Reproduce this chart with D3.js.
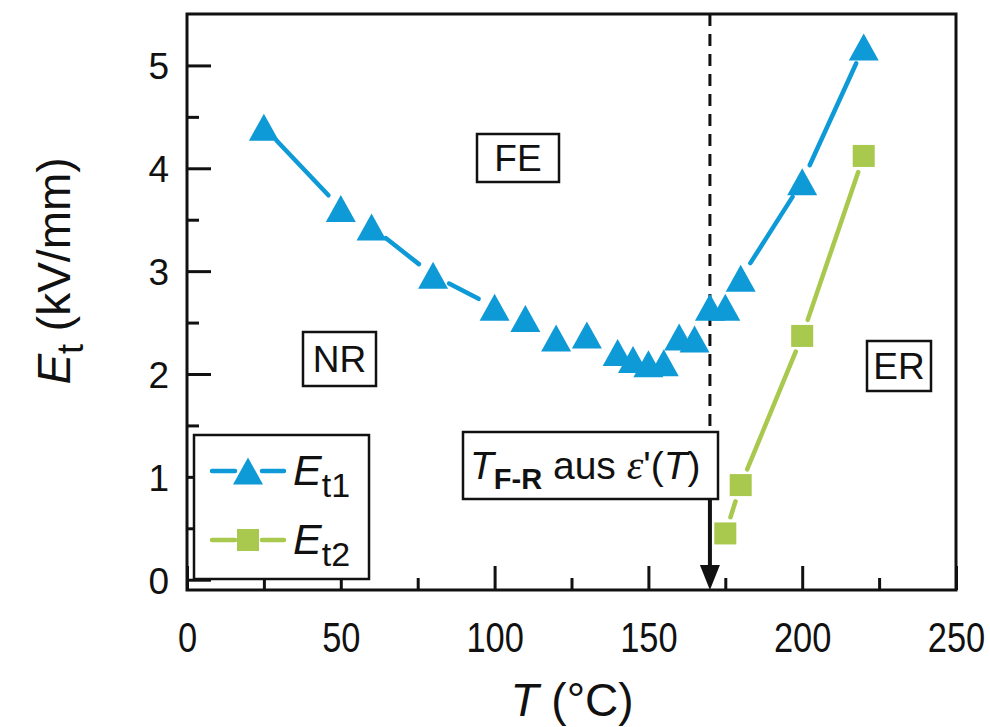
<!DOCTYPE html>
<html>
<head>
<meta charset="utf-8">
<script src="https://cdn.jsdelivr.net/npm/d3@7"></script>
<style>
  body { margin: 0; background: #fff; }
  text { font-family: "Liberation Sans", Arial, sans-serif; fill: #111; }
</style>
</head>
<body>
<svg id="chart" width="990" height="727"></svg>
<script>
// data
const temps1 = [25, 50, 60, 80, 100, 110, 120, 130, 140, 145, 150, 155, 160, 165, 170, 175, 180, 200, 220];
const et1 = [4.40, 3.61, 3.43, 2.96, 2.65, 2.54, 2.35, 2.38, 2.21, 2.14, 2.10, 2.11, 2.36, 2.34, 2.65, 2.65, 2.93, 3.87, 5.18];
const temps2 = [175, 180, 200, 220];
const et2 = [0.45, 0.92, 2.37, 4.12];
const xTicks = [0, 50, 100, 150, 200, 250];
const xMinor = [25, 75, 125, 175, 225];
const yTicks = [0, 1, 2, 3, 4, 5];
const yMinor = [0.5, 1.5, 2.5, 3.5, 4.5];
const tFR = 170;

const blue = "#0e9ad6";
const green = "#a8c84e";

const svg = d3.select("#chart");

const x = d3.scaleLinear().domain([0, 250]).range([187, 956]);
const y = d3.scaleLinear().domain([-0.1, 5.5]).range([590, 14]);

// axes, ticks pointing inward
const xAxis = svg.append("g").attr("transform", "translate(0," + y.range()[0] + ")")
  .call(d3.axisBottom(x).tickValues(xTicks).tickSize(-24).tickPadding(62).tickFormat(d3.format("d")));
svg.append("g").attr("transform", "translate(0," + y.range()[0] + ")")
  .call(d3.axisBottom(x).tickValues(xMinor).tickSize(-12).tickFormat(""));
const yAxis = svg.append("g").attr("transform", "translate(" + x.range()[0] + ",0)")
  .call(d3.axisLeft(y).tickValues(yTicks).tickSize(-24).tickPadding(18).tickFormat(d3.format("d")));
svg.append("g").attr("transform", "translate(" + x.range()[0] + ",0)")
  .call(d3.axisLeft(y).tickValues(yMinor).tickSize(-12).tickFormat(""));

svg.selectAll(".domain").remove();
svg.selectAll(".tick line").attr("stroke", "#111").attr("stroke-width", 3);
// the x tick numbers in the figure are a condensed face
xAxis.selectAll("text").attr("font-size", 42).attr("dy", "0").attr("transform", "scale(0.82,1)");
yAxis.selectAll("text").attr("font-size", 37).attr("dy", "0.36em");

// frame
svg.append("rect")
  .attr("x", x.range()[0]).attr("y", y.range()[1])
  .attr("width", x.range()[1] - x.range()[0]).attr("height", y.range()[0] - y.range()[1])
  .attr("fill", "none").attr("stroke", "#111").attr("stroke-width", 3);

// dashed T_F-R line and arrow
svg.append("line")
  .attr("x1", x(tFR)).attr("x2", x(tFR)).attr("y1", y.range()[1]).attr("y2", 432)
  .attr("stroke", "#111").attr("stroke-width", 3).attr("stroke-dasharray", "12,8");
svg.append("line")
  .attr("x1", x(tFR)).attr("x2", x(tFR)).attr("y1", 499).attr("y2", 568)
  .attr("stroke", "#111").attr("stroke-width", 4);
svg.append("path")
  .attr("d", `M${x(tFR) - 10},565 L${x(tFR) + 10},565 L${x(tFR)},${y.range()[0]} Z`)
  .attr("fill", "#111");

// line segments with gaps around markers
function gappedSegments(xs, ys, gap) {
  const segs = [];
  for (let i = 0; i < xs.length - 1; i++) {
    const x1 = x(xs[i]), y1 = y(ys[i]), x2 = x(xs[i + 1]), y2 = y(ys[i + 1]);
    const len = Math.hypot(x2 - x1, y2 - y1);
    if (len <= 2 * gap + 2) continue;
    const ux = (x2 - x1) / len, uy = (y2 - y1) / len;
    segs.push([x1 + ux * gap, y1 + uy * gap, x2 - ux * gap, y2 - uy * gap]);
  }
  return segs;
}

svg.append("g").selectAll("line").data(gappedSegments(temps1, et1, 18)).enter().append("line")
  .attr("x1", d => d[0]).attr("y1", d => d[1]).attr("x2", d => d[2]).attr("y2", d => d[3])
  .attr("stroke", blue).attr("stroke-width", 4.5).attr("stroke-linecap", "round");
svg.append("g").selectAll("line").data(gappedSegments(temps2, et2, 17)).enter().append("line")
  .attr("x1", d => d[0]).attr("y1", d => d[1]).attr("x2", d => d[2]).attr("y2", d => d[3])
  .attr("stroke", green).attr("stroke-width", 4.5).attr("stroke-linecap", "round");

const triPath = "M0,-13.5 L15,13.5 L-15,13.5 Z";
svg.append("g").selectAll("path").data(temps1.map((t, i) => [t, et1[i]])).enter().append("path")
  .attr("d", triPath)
  .attr("transform", d => "translate(" + x(d[0]) + "," + y(d[1]) + ")")
  .attr("fill", blue);
svg.append("g").selectAll("rect").data(temps2.map((t, i) => [t, et2[i]])).enter().append("rect")
  .attr("x", d => x(d[0]) - 11).attr("y", d => y(d[1]) - 11)
  .attr("width", 22).attr("height", 22)
  .attr("fill", green);

// region labels
function boxLabel(txt, x0, y0, w, h) {
  svg.append("rect").attr("x", x0).attr("y", y0).attr("width", w).attr("height", h)
    .attr("fill", "#fff").attr("stroke", "#111").attr("stroke-width", 2.5);
  svg.append("text").attr("x", x0 + w / 2).attr("y", y0 + h / 2 + 13)
    .attr("text-anchor", "middle").attr("font-size", 37).text(txt);
}
boxLabel("FE", 477, 134, 82, 48);
boxLabel("NR", 303, 332, 73, 54);
boxLabel("ER", 867, 341, 64, 50);

// T_F-R box
svg.append("rect").attr("x", 463).attr("y", 432).attr("width", 255).attr("height", 67)
  .attr("fill", "#fff").attr("stroke", "#111").attr("stroke-width", 2.5);
const tfr = svg.append("text").attr("x", 470).attr("y", 479).attr("font-size", 39);
tfr.append("tspan").attr("font-style", "italic").text("T");
tfr.append("tspan").attr("font-weight", "bold").attr("font-size", 29).attr("dy", 10).text("F-R");
tfr.append("tspan").attr("dy", -10).text(" aus ");
tfr.append("tspan").attr("font-style", "italic").style("font-family", "'Liberation Serif', serif").attr("font-size", 42).text("\u03b5");
tfr.append("tspan").text("'(");
tfr.append("tspan").attr("font-style", "italic").text("T");
tfr.append("tspan").text(")");

// legend
svg.append("rect").attr("x", 194).attr("y", 435).attr("width", 175).attr("height", 144)
  .attr("fill", "#fff").attr("stroke", "#111").attr("stroke-width", 2.5);
const legend = [
  { sub: "t1", color: blue, shape: "tri", yy: 471 },
  { sub: "t2", color: green, shape: "sq", yy: 540 }
];
legend.forEach(l => {
  const g = svg.append("g");
  g.append("line").attr("x1", 212).attr("x2", 235).attr("y1", l.yy).attr("y2", l.yy)
    .attr("stroke", l.color).attr("stroke-width", 4.5).attr("stroke-linecap", "round");
  g.append("line").attr("x1", 262).attr("x2", 284).attr("y1", l.yy).attr("y2", l.yy)
    .attr("stroke", l.color).attr("stroke-width", 4.5).attr("stroke-linecap", "round");
  if (l.shape === "tri") {
    g.append("path").attr("d", triPath).attr("transform", "translate(248," + l.yy + ")").attr("fill", l.color);
  } else {
    g.append("rect").attr("x", 237).attr("y", l.yy - 11).attr("width", 22).attr("height", 22).attr("fill", l.color);
  }
  const t = g.append("text").attr("x", 293).attr("y", l.yy + 14).attr("font-size", 43);
  t.append("tspan").attr("font-style", "italic").text("E");
  t.append("tspan").attr("font-size", 34).attr("dy", 12).text(l.sub);
});

// axis titles
const xt = svg.append("text").attr("x", 572).attr("y", 716).attr("text-anchor", "middle")
  .attr("font-size", 46);
xt.append("tspan").attr("font-style", "italic").text("T");
xt.append("tspan").text(" (\u00b0C)");

const yt = svg.append("text").attr("transform", "translate(70,271) rotate(-90)")
  .attr("text-anchor", "middle").attr("font-size", 46);
yt.append("tspan").attr("font-style", "italic").text("E");
yt.append("tspan").attr("font-size", 36).attr("dy", 13).text("t");
yt.append("tspan").attr("dy", -13).text(" (kV/mm)");
</script>
</body>
</html>
